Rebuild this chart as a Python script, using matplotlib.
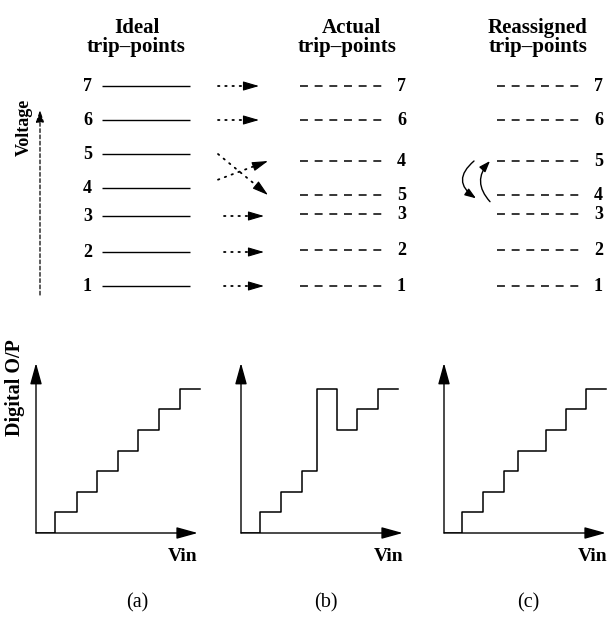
import numpy as np
import matplotlib.pyplot as plt

W, H = 613, 618

# trip-point voltages (in ideal LSB units)
codes = [1, 2, 3, 4, 5, 6, 7]
ideal_v = [1.0, 2.02, 3.1, 3.94, 4.96, 5.98, 7.0]
actual_codes = [1, 2, 3, 5, 4, 6, 7]
actual_v = [1.0, 2.08, 3.16, 3.73, 4.75, 5.98, 7.0]
reassigned_codes = [1, 2, 3, 4, 5, 6, 7]

# transfer curves: Vin where the output steps, and the output code after it
vin_a = [0.92, 1.99, 2.96, 3.98, 4.95, 5.97, 6.99, 7.96]
out_a = [1, 2, 3, 4, 5, 6, 7, 7]
vin_b = [0.92, 1.94, 2.96, 3.69, 4.66, 5.63, 6.65, 7.62]
out_b = [1, 2, 3, 7, 5, 6, 7, 7]
vin_c = [0.87, 1.89, 2.91, 3.59, 4.95, 5.92, 6.89, 7.86]
out_c = [1, 2, 3, 4, 5, 6, 7, 7]
panel_labels = ['(a)', '(b)', '(c)']

plt.rcParams['font.family'] = ['Liberation Serif', 'DejaVu Serif']
fig = plt.figure(figsize=(W / 100, H / 100), dpi=100)

V_PX = 33.33  # pixels per voltage unit in the top diagram


def px(x, y):
    return x / W, 1 - y / H


def v_of(ypx):
    # pixel row of the top diagram -> voltage units
    return 1 + (286 - ypx) / V_PX


# ---- top diagram: trip points ----
ax = fig.add_axes([0, 0, 1, 1])
ax.set_xlim(0, W)
ax.set_ylim(v_of(H), v_of(0))
ax.axis('off')

bold = dict(fontweight='bold', color='black')
for x, t in [(137, 'Ideal'), (351, 'Actual'), (538, 'Reassigned')]:
    fig.text(*px(x, 33), t, ha='center', va='baseline', fontsize=15, **bold)
for x in [136, 347, 538]:
    fig.text(*px(x, 52), 'trip\u2013points', ha='center', va='baseline', fontsize=15, **bold)

dash = (0, (5.2, 4.4))
ax.hlines(ideal_v, 102, 190, color='black', lw=1.0)
for c, v in zip(codes, ideal_v):
    ax.text(92, v, str(c), ha='right', va='center', fontsize=13, **bold)
for c, v in zip(actual_codes, actual_v):
    ax.plot([300, 382], [v, v], color='black', lw=1.1, linestyle=dash)
    ax.text(397, v, str(c), ha='left', va='center', fontsize=13, **bold)
for c, v in zip(reassigned_codes, actual_v):
    ax.plot([497, 580], [v, v], color='black', lw=1.1, linestyle=dash)
    ax.text(594, v, str(c), ha='left', va='center', fontsize=13, **bold)


def dotted_arrow(x0, v0, x1, v1):
    # dotted shaft, then a solid arrowhead about 13 px long
    d = np.array([x1 - x0, (v1 - v0) * V_PX])
    d = d / np.hypot(*d) * 13
    xm, vm = x1 - d[0], v1 - d[1] / V_PX
    ax.plot([x0, xm], [v0, vm], color='black', lw=1.3, linestyle=(0, (0.8, 3.2)),
            solid_capstyle='round', dash_capstyle='round')
    ax.annotate('', xy=(x1, v1), xytext=(xm, vm),
                arrowprops=dict(arrowstyle='-|>,head_length=0.75,head_width=0.22',
                                mutation_scale=13, color='black', lw=0.8,
                                shrinkA=0, shrinkB=0))


for c, v in zip(codes, ideal_v):
    if c in (6, 7):
        dotted_arrow(218, v, 259, v)
    elif c in (1, 2, 3):
        dotted_arrow(224, v, 264, v)
# codes 4 and 5 swap places
dotted_arrow(218, ideal_v[4], 268, actual_v[3])
dotted_arrow(218, ideal_v[3] + 0.25, 268, actual_v[4])

curved = dict(arrowstyle='-|>,head_length=0.55,head_width=0.2', mutation_scale=12,
              color='black', lw=1.0, shrinkA=0, shrinkB=0)
ax.annotate('', xy=(476, actual_v[3] - 0.1), xytext=(474, actual_v[4]),
            arrowprops=dict(connectionstyle='arc3,rad=0.65', **curved))
ax.annotate('', xy=(490, actual_v[4]), xytext=(490, actual_v[3] - 0.2),
            arrowprops=dict(connectionstyle='arc3,rad=-0.45', **curved))

ax.annotate('', xy=(40, v_of(110)), xytext=(40, v_of(295)),
            arrowprops=dict(arrowstyle='-|>,head_length=0.6,head_width=0.2', mutation_scale=12,
                            color='black', lw=0.9, linestyle=(0, (3, 2)), shrinkA=0, shrinkB=0))
fig.text(*px(24, 127), 'Voltage', rotation=90, ha='center', va='center', fontsize=13, **bold)

# ---- bottom: transfer characteristics ----
unit = 20.6
origins = [36, 241, 444]
curves = [(vin_a, out_a), (vin_b, out_b), (vin_c, out_c)]
vin_x = [183, 389, 593]
lab_x = [137, 326, 528]
axis_arrow = dict(arrowstyle='-|>,head_length=0.65,head_width=0.18', mutation_scale=20,
                  color='black', lw=1.0, shrinkA=0, shrinkB=0)
for ox, (vin, out), vx, lx, lab in zip(origins, curves, vin_x, lab_x, panel_labels):
    bx = fig.add_axes([ox / W, (H - 533) / H, 9 * unit / W, 9 * unit / H])
    bx.set_xlim(0, 9)
    bx.set_ylim(0, 9)
    bx.axis('off')
    bx.plot([0] + vin, [0] + out, drawstyle='steps-post', color='black', lw=1.1)
    bx.annotate('', xy=(7.85, 0), xytext=(0, 0), arrowprops=axis_arrow)
    bx.annotate('', xy=(0, 8.25), xytext=(0, 0), arrowprops=axis_arrow)
    fig.text(*px(vx, 561), 'Vin', ha='center', va='baseline', fontsize=14, **bold)
    fig.text(*px(lx, 603), lab, ha='center', va='center', fontsize=14.5, color='black')

fig.text(*px(15, 388), 'Digital O/P', rotation=90, ha='center', va='center', fontsize=14.5, **bold)

fig.savefig('out.png', dpi=100)
